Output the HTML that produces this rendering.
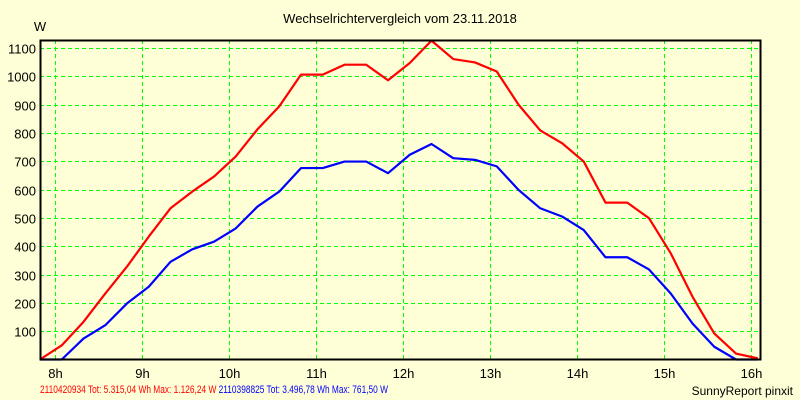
<!DOCTYPE html>
<html><head><meta charset="utf-8"><style>
html,body{margin:0;padding:0;background:#ffffd7;}
svg{display:block;font-family:"Liberation Sans",Arial,sans-serif;}
</style></head><body>
<svg id="chart" width="800" height="400" viewBox="0 0 800 400">
<rect x="0" y="0" width="800" height="400" fill="#ffffd7"/>
<text x="400" y="23" text-anchor="middle" font-size="13" fill="#000">Wechselrichtervergleich vom 23.11.2018</text>
<text x="40" y="31" text-anchor="middle" font-size="13" fill="#000">W</text>
<g id="grid"></g>
<g id="yticks"></g>
<g id="xticks"></g>
<g id="series"></g>
<rect x="40.5" y="40.5" width="720" height="319" fill="none" stroke="#000" stroke-width="2"/>
<text x="40" y="393" font-size="11" fill="#ff0000" textLength="348" lengthAdjust="spacingAndGlyphs">2110420934 Tot: 5.315,04 Wh Max: 1.126,24 W <tspan fill="#0000ff">2110398825 Tot: 3.496,78 Wh Max: 761,50 W</tspan></text>
<text x="793" y="395" text-anchor="end" font-size="12" fill="#000">SunnyReport pinxit</text>
</svg>
<script>
const startMin = 470; // 7:50
const stepMin = 15;
const redValues = [0,50,133,233,328,434,534,593,646,717,813,894,1006,1006,1041,1041,986,1047,1126,1061,1049,1017,900,809,764,699,554,554,499,375,222,92,21,4];
const blueValues = [0,0,74,121,198,257,345,389,416,463,540,593,676,676,699,699,658,723,761,711,705,682,599,534,505,457,361,361,318,233,127,45,0,0];
const yTicks = [100,200,300,400,500,600,700,800,900,1000,1100];
const xTickHours = [8,9,10,11,12,13,14,15,16];

const NS = "http://www.w3.org/2000/svg";
const L = 40, R = 760, T = 40, B = 359.5;
const xMinMin = 470, xMaxMin = 470 + 33 * 15;
function xs(min){ return L + (min - xMinMin) / (xMaxMin - xMinMin) * (757.75 - L); }
function ys(v){ return B - v / 1100 * (359.5 - 48); }
function mk(tag, attrs, parent){ const e = document.createElementNS(NS, tag); for (const k in attrs) e.setAttribute(k, attrs[k]); parent.appendChild(e); return e; }

const grid = document.getElementById('grid');
const yt = document.getElementById('yticks');
const xt = document.getElementById('xticks');
yTicks.forEach(v => {
  const y = Math.round(ys(v)) + 0.5;
  const ln = mk('line', {x1: L, x2: R, y1: y, y2: y, stroke: '#00ff00', 'stroke-width': 1, 'stroke-dasharray': '4 3'}, grid);
  
  
  const t = mk('text', {x: 36, y: y + 5, 'text-anchor': 'end', 'font-size': 13, fill: '#000'}, yt);
  t.textContent = v;
  
  
});
xTickHours.forEach(h => {
  const x = Math.round(xs(h * 60)) + 0.5;
  const ln = mk('line', {x1: x, x2: x, y1: T, y2: B, stroke: '#00ff00', 'stroke-width': 1, 'stroke-dasharray': '4 3'}, grid);
  
  
  const t = mk('text', {x: x, y: 378, 'text-anchor': 'middle', 'font-size': 13, fill: '#000'}, xt);
  t.textContent = h + 'h';
  
  
});
const series = document.getElementById('series');
function drawLine(vals, color, name){
  const pts = vals.map((v, i) => xs(startMin + i * stepMin).toFixed(2) + ',' + ys(v).toFixed(2)).join(' ');
  const p = mk('polyline', {points: pts, fill: 'none', stroke: color, 'stroke-width': 2.2, 'stroke-linejoin': 'round'}, series);
  
  
}
drawLine(blueValues, '#0000ff', 'line-2110398825');
drawLine(redValues, '#ff0000', 'line-2110420934');
</script>
</body></html>
